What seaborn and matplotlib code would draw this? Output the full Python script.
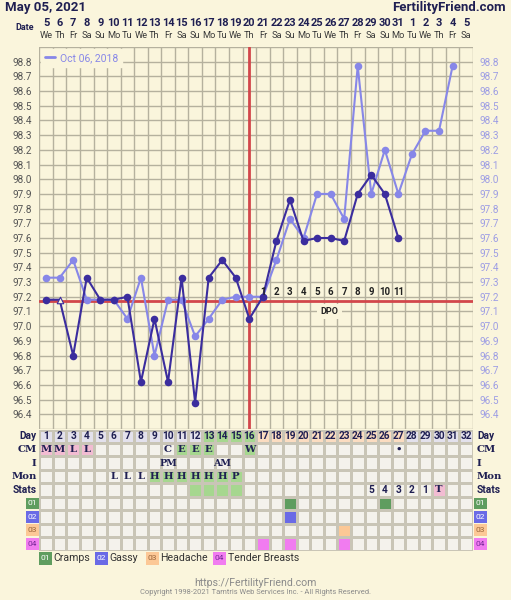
import matplotlib.pyplot as plt
import seaborn as sns
import numpy as np
import pandas as pd
from matplotlib.colors import ListedColormap
from matplotlib.lines import Line2D
from matplotlib.patches import Rectangle
from matplotlib.transforms import blended_transform_factory

# ---- chart data ----
chart_date = "May 05, 2021"
site_name = "FertilityFriend.com"
cycle_days = list(range(1, 33))
date_labels = [str(d) for d in range(5, 32)] + [str(d) for d in range(1, 6)]
weekdays = ["We", "Th", "Fr", "Sa", "Su", "Mo", "Tu"] * 5
weekdays = weekdays[:32]

current_temps = [97.18, 97.18, 96.80, 97.33, 97.18, 97.18, 97.20, 96.62, 97.05,
                 96.62, 97.33, 96.48, 97.33, 97.45, 97.33, 97.05, 97.20, 97.58,
                 97.86, 97.58, 97.60, 97.60, 97.58, 97.90, 98.03, 97.90, 97.60]
discarded_days = [2]

previous_label = "Oct 06, 2018"
previous_temps = [97.33, 97.33, 97.45, 97.18, 97.18, 97.18, 97.05, 97.33, 96.80,
                  97.18, 97.18, 96.93, 97.05, 97.18, 97.20, 97.20, 97.20, 97.45,
                  97.73, 97.60, 97.90, 97.90, 97.73, 98.77, 97.90, 98.20, 97.90,
                  98.17, 98.33, 98.33, 98.77]

coverline = 97.17
ovulation_day = 16
dpo_numbers = list(range(1, 12))

fertile_days = [13, 14, 15, 16]
luteal_days = list(range(17, 28))
cm_obs = {1: "M", 2: "M", 3: "L", 4: "L", 10: "C", 11: "E", 12: "E", 13: "E",
          16: "W", 27: "\u2022"}
intercourse = {10: "PM", 14: "AM"}
monitor = {6: "L", 7: "L", 8: "L", 9: "H", 10: "H", 11: "H", 12: "H", 13: "H",
           14: "H", 15: "P"}
stats_marked = [12, 13, 14, 15]
stats_text = {25: "5", 26: "4", 27: "3", 28: "2", 29: "1", 30: "T"}
row_labels = ["Day", "CM", "I", "Mon", "Stats"]
symptom_codes = ["01", "02", "03", "04"]
symptom_names = ["Cramps", "Gassy", "Headache", "Tender Breasts"]
symptom_days = [[19, 26], [19], [23], [17, 19, 23]]

# ---- style ----
W, H = 511, 600
bg = "#faf5dc"
grid = "#b5b19e"
dark = "#3b2d9e"
light = "#8787e8"
red = "#d2474b"
navy = "#1f1f52"
cell_colors = ["#f4f2ec", "#e3e1ec", "#a6d78f", "#fbdcc0", "#f2bcd2",
               "#5f9d5f", "#6a6ae6", "#fcc896", "#f17cf0"]
sym_fg = ["white", "white", "#9a6438", "#7a2a9a"]

sns.set_style("white")
plt.rcParams["font.family"] = ["Roboto", "DejaVu Sans"]

fig = plt.figure(figsize=(W / 100, H / 100), dpi=100, facecolor=bg)


def fx(px):
    return px / W


def fy(py):
    return 1 - py / H


left, right, top, bottom = 39.3, 472.9, 47, 429
ax = fig.add_axes([fx(left), fy(bottom), fx(right - left), (bottom - top) / H])
ax.set_facecolor(bg)
for s in ax.spines.values():
    s.set_visible(False)
ax.set_xlim(0.5, 32.5)
ax.set_ylim(96.3, 98.9)

for v in np.arange(96.3, 98.95, 0.1):
    ax.axhline(v, color=grid, lw=1, zorder=0.5)
for v in np.arange(0.5, 33, 1):
    ax.axvline(v, color=grid, lw=1, zorder=0.5)

ticks = np.round(np.arange(96.4, 98.81, 0.1), 1)
ax.set_yticks(ticks)
ax.set_yticklabels([f"{t:.1f}" for t in ticks])
ax.set_xticks([])
ax.tick_params(axis="y", length=0, labelsize=7.2, labelright=True, pad=5,
               labelcolor="#555555")
for t in ax.yaxis.get_major_ticks():
    t.label2.set_color("#9d9de4")

ax.axhline(coverline, color=red, lw=2, zorder=1)
ax.axvline(ovulation_day, color=red, lw=2, zorder=1)

prev = pd.DataFrame({"day": cycle_days[:len(previous_temps)], "temp": previous_temps})
cur = pd.DataFrame({"day": cycle_days[:len(current_temps)], "temp": current_temps})
cur["kept"] = ~cur["day"].isin(discarded_days)

sns.lineplot(data=prev, x="day", y="temp", color=light, lw=1.5, ax=ax, zorder=2)
sns.scatterplot(data=prev, x="day", y="temp", color=light, s=30, linewidth=0,
                ax=ax, zorder=2)
sns.lineplot(data=cur, x="day", y="temp", color=dark, lw=1.5, ax=ax, zorder=3)
sns.scatterplot(data=cur[cur["kept"]], x="day", y="temp", color=dark, s=30,
                linewidth=0, ax=ax, zorder=3)
sns.scatterplot(data=cur[~cur["kept"]], x="day", y="temp", marker="^",
                facecolor=bg, edgecolor=dark, s=22, linewidth=0.8, ax=ax, zorder=4)
ax.set_xlabel("")
ax.set_ylabel("")

for n, d in zip(dpo_numbers, luteal_days):
    ax.text(d, 97.235, str(n), ha="center", va="center", fontsize=7,
            fontweight="bold", color="#222222", zorder=5)
ax.text(21.9, 97.10, "DPO", ha="center", va="center", fontsize=6.5,
        fontweight="bold", color="#222222", zorder=5,
        bbox=dict(facecolor=bg, edgecolor="none", pad=2.5))

ax.legend(handles=[Line2D([0], [0], color=light, lw=2)], labels=[previous_label],
          loc="upper left", fontsize=7.5, frameon=True, facecolor=bg, edgecolor=bg,
          framealpha=1, handlelength=1.0, handletextpad=0.4, borderaxespad=0.15,
          labelcolor=light, fancybox=False)

# ---- header ----
fig.text(fx(5), fy(7), chart_date, fontsize=9.5, fontweight="bold", color=navy,
         ha="left", va="center")
fig.text(fx(506), fy(7), site_name, fontsize=9.5, fontweight="bold", color=navy,
         ha="right", va="center")
fig.text(fx(34), fy(27), "Date", fontsize=6.5, fontweight="bold", color=navy,
         ha="right", va="center")
htr = blended_transform_factory(ax.transData, fig.transFigure)
for d, lab, wd in zip(cycle_days, date_labels, weekdays):
    ax.text(d, fy(23), lab, transform=htr, ha="center", va="center", fontsize=7.9,
            fontweight="bold", color=navy)
    ax.text(d, fy(36), wd, transform=htr, ha="center", va="center", fontsize=6.7,
            color="#3a3a3a")

# ---- observation table ----
codes = np.zeros((9, 32), dtype=int)
for d in cycle_days:
    i = d - 1
    codes[0, i] = 2 if d in fertile_days else 3 if d in luteal_days else 1
    if cm_obs.get(d) in ("M", "L"):
        codes[1, i] = 4
    elif cm_obs.get(d) in ("E", "W"):
        codes[1, i] = 2
    if monitor.get(d) in ("H", "P"):
        codes[3, i] = 2
    if d in stats_marked:
        codes[4, i] = 2
    if stats_text.get(d) == "T":
        codes[4, i] = 4
for k, days in enumerate(symptom_days):
    for d in days:
        codes[5 + k, d - 1] = 5 + k

t_top, t_bot = 429.5, 550.5
tax = fig.add_axes([fx(left), fy(t_bot), fx(right - left), (t_bot - t_top) / H])
sns.heatmap(codes, cmap=ListedColormap(cell_colors), vmin=-0.5,
            vmax=len(cell_colors) - 0.5, cbar=False, linewidths=1,
            linecolor="#c9c5b6", xticklabels=False, yticklabels=False, ax=tax)
tax.tick_params(length=0)

serif = ["DejaVu Serif"]
for d in cycle_days:
    x = d - 0.5
    tax.text(x, 0.5, str(d), ha="center", va="center", fontsize=7.3,
             fontweight="bold", color=navy)
    if d in cm_obs:
        tax.text(x, 1.5, cm_obs[d], ha="center", va="center", fontsize=7.3,
                 fontweight="bold", color=navy, family=serif)
    if d in intercourse:
        tax.text(x, 2.5, intercourse[d], ha="center", va="center", fontsize=6.8,
                 fontweight="bold", color=navy, family=serif)
    if d in monitor:
        tax.text(x, 3.5, monitor[d], ha="center", va="center", fontsize=7.3,
                 fontweight="bold", color=navy, family=serif)
    if d in stats_text:
        fam = serif if stats_text[d] == "T" else ["Roboto", "DejaVu Sans"]
        tax.text(x, 4.5, stats_text[d], ha="center", va="center", fontsize=7.3,
                 fontweight="bold", color=navy, family=fam)

for r, lab in enumerate(row_labels):
    fam = ["Roboto", "DejaVu Sans"] if lab in ("Day", "Stats") else serif
    tax.text(-0.2, r + 0.5, lab, ha="right", va="center", fontsize=7.3,
             fontweight="bold", color=navy, family=fam)
    tax.text(32.3, r + 0.5, lab, ha="left", va="center", fontsize=7.3,
             fontweight="bold", color=navy, family=fam)
for k, code in enumerate(symptom_codes):
    for x0 in (-1.0, 32.1):
        tax.add_patch(Rectangle((x0, 5 + k + 0.06), 0.95, 0.88,
                                facecolor=cell_colors[5 + k], edgecolor="none",
                                clip_on=False))
        tax.text(x0 + 0.47, 5 + k + 0.5, code, ha="center", va="center",
                 fontsize=6, color=sym_fg[k], clip_on=False)

# ---- symptom legend ----
legend_x = [39, 95, 146, 213]
for k, (code, name) in enumerate(zip(symptom_codes, symptom_names)):
    x0 = legend_x[k]
    fig.patches.append(Rectangle((fx(x0), fy(564.5)), fx(12.5), 13 / H,
                                 transform=fig.transFigure, facecolor=cell_colors[5 + k],
                                 edgecolor="none"))
    fig.text(fx(x0 + 6.2), fy(558), code, ha="center", va="center", fontsize=6,
             color=sym_fg[k])
    fig.text(fx(x0 + 14.5), fy(558), name, ha="left", va="center", fontsize=7.6,
             color="#333333")

# ---- footer ----
fig.text(0.5, fy(583), "https://FertilityFriend.com", ha="center", va="center",
         fontsize=7.6, color="#8a8a8a")
fig.text(0.5, fy(593), "Copyright 1998-2021 Tamtris Web Services Inc. - All Rights Reserved.",
         ha="center", va="center", fontsize=5.4, color="#8a8a8a")

fig.savefig("out.png", dpi=100, facecolor=bg)
